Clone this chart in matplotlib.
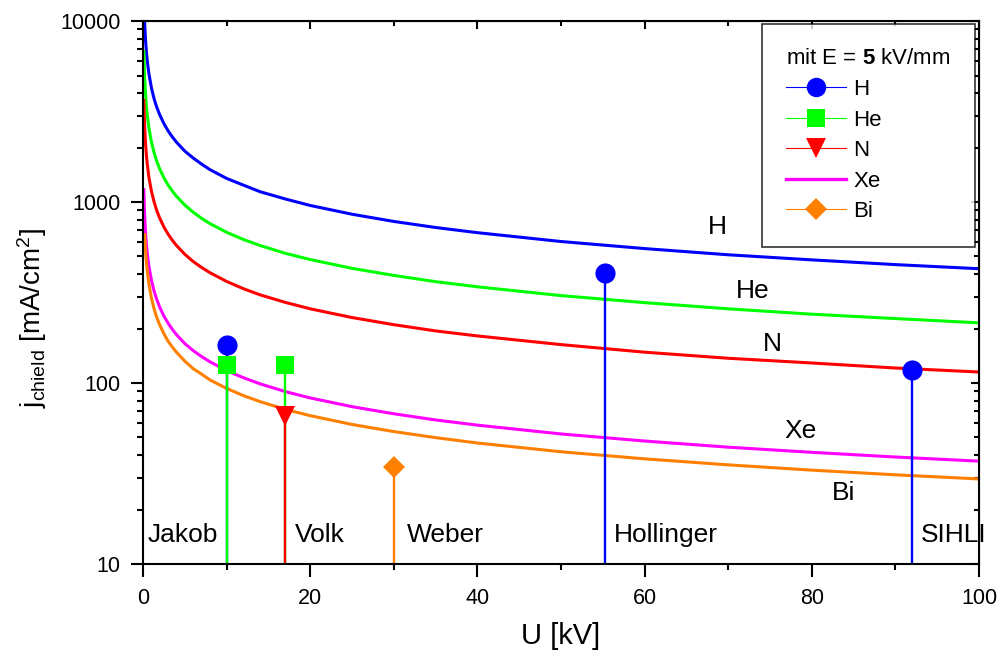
# coding: utf-8

"""Child-Langmuir Stromdichte fuer verschiedene Ionen bei E = 5 kV/mm."""

import matplotlib.pyplot as plt
from matplotlib.lines import Line2D
from matplotlib.ticker import FixedLocator, LogLocator, NullFormatter

# pismo: Arial-like
plt.rcParams["font.family"] = ["Liberation Sans", "DejaVu Sans"]
plt.rcParams["mathtext.fontset"] = "custom"
plt.rcParams["mathtext.rm"] = "Liberation Sans"
plt.rcParams["mathtext.it"] = "Liberation Sans:italic"
plt.rcParams["mathtext.bf"] = "Liberation Sans:bold"

# hodnoty na x-ove ose (U v kV)
u = [0.1, 0.15, 0.2, 0.3, 0.4, 0.5, 0.7, 1, 1.3, 1.6, 2, 2.5, 3, 3.5, 4,
     5, 6, 7, 8, 10, 12, 14, 17, 20, 25, 30, 35, 40, 50, 60, 70, 80, 90, 100]

# hodnoty na y-ove ose (j v mA/cm^2)
j_h = [13530, 11050, 9570, 7810, 6770, 6050, 5120, 4280, 3750, 3380,
       3030, 2710, 2470, 2290, 2140, 1910, 1750, 1620, 1510, 1350,
       1240, 1140, 1040, 957, 856, 781, 723, 677, 605, 553,
       511, 479, 451, 428]
j_he = [6800, 5550, 4810, 3930, 3400, 3040, 2570, 2150, 1890, 1700,
        1520, 1360, 1240, 1150, 1075, 962, 878, 813, 760, 680,
        621, 575, 521, 481, 430, 393, 363, 340, 304, 278,
        257, 240, 227, 215]
j_n = [3640, 2970, 2570, 2100, 1820, 1630, 1370, 1150, 1010, 909,
       813, 727, 664, 615, 575, 514, 469, 435, 407, 364,
       332, 307, 279, 257, 230, 210, 194, 182, 163, 148,
       137, 129, 121, 115]
j_xe = [1170, 955, 827, 675, 585, 523, 442, 370, 325, 293,
        262, 234, 214, 198, 185, 165, 151, 140, 131, 117,
        107, 98.9, 89.7, 82.7, 74, 67.6, 62.5, 58.5, 52.3, 47.8,
        44.2, 41.4, 39, 37]
u_bi = u[2:]
j_bi = [660, 539, 466, 417, 353, 295, 259, 233, 209, 187,
        170, 158, 148, 132, 120, 112, 104, 93.3, 85.2, 78.9,
        71.5, 66, 59, 53.9, 49.9, 46.6, 41.7, 38.1, 35.3, 33,
        31.1, 29.5]

# experimenty: U, j
exp_h_u = [10, 55.3, 92]
exp_h_j = [162, 405, 118]
exp_he_u = [10, 17]
exp_he_j = [126, 126]
exp_n_u = [17]
exp_n_j = [66]
exp_bi_u = [30]
exp_bi_j = [34.5]

# popisky experimentu
exp_names = ["Jakob", "Volk", "Weber", "Hollinger", "SIHLI"]
exp_name_u = [0.5, 18.2, 31.6, 56.3, 93]

# popisky krivek
curve_names = ["H", "He", "N", "Xe", "Bi"]
curve_name_u = [68.7, 72.9, 75.3, 78.6, 83.8]
curve_name_j = [730, 322, 164, 54, 24.6]

blue = "#0000ff"
green = "#00ff00"
red = "#ff0000"
magenta = "#ff00ff"
orange = "#ff8000"

fig = plt.figure(figsize=(10.01, 6.53), dpi=100)
ax = fig.add_axes([0.1429, 0.1363, 0.8352, 0.8315])

# teoreticke krivky
ax.plot(u, j_h, color=blue, lw=2.2)
ax.plot(u, j_he, color=green, lw=2.2)
ax.plot(u, j_n, color=red, lw=2.2)
ax.plot(u, j_xe, color=magenta, lw=2.2)
ax.plot(u_bi, j_bi, color=orange, lw=2.2)

# experimenty se svislymi carami
ax.vlines(exp_h_u, 10, exp_h_j, color=blue, lw=1.7)
ax.vlines(exp_he_u, 10, exp_he_j, color=green, lw=1.7)
ax.vlines(exp_n_u, 10, exp_n_j, color=red, lw=1.7)
ax.vlines(exp_bi_u, 10, exp_bi_j, color=orange, lw=1.7)
ax.plot(exp_h_u, exp_h_j, "o", color=blue, ms=14.5, mew=0)
ax.plot(exp_he_u, exp_he_j, "s", color=green, ms=13, mew=0)
ax.plot(exp_n_u, exp_n_j, "v", color=red, ms=15, mew=0)
ax.plot(exp_bi_u, exp_bi_j, "D", color=orange, ms=11.5, mew=0)

# popisky v grafu
for name, x in zip(exp_names, exp_name_u):
    ax.text(x, 14.5, name, fontsize=19, va="center", ha="left")
for name, x, y in zip(curve_names, curve_name_u, curve_name_j):
    ax.text(x, y, name, fontsize=19, va="center", ha="center")

# rozsahy a meritko os
ax.set_xlim(0, 100)
ax.set_yscale("log")
ax.set_ylim(10, 10000)
ax.set_xticks([0, 20, 40, 60, 80, 100])
ax.xaxis.set_minor_locator(FixedLocator([10, 30, 50, 70, 90]))
ax.yaxis.set_major_locator(FixedLocator([10, 100, 1000, 10000]))
ax.set_yticklabels(["10", "100", "1000", "10000"])
ax.yaxis.set_minor_locator(LogLocator(base=10, subs=range(2, 10)))
ax.yaxis.set_minor_formatter(NullFormatter())
ax.tick_params(which="major", direction="out", length=9, width=1.5,
               labelsize=15.5)
ax.tick_params(which="minor", direction="out", length=4.5, width=1.5)
ax.tick_params(axis="x", which="major", pad=8)
ax.tick_params(axis="y", which="major", pad=7)
for s in ax.spines.values():
    s.set_linewidth(1.5)

# horni a prava osa s tiky dovnitr
top = ax.secondary_xaxis("top")
top.set_xticks([0, 20, 40, 60, 80, 100])
top.xaxis.set_minor_locator(FixedLocator([10, 30, 50, 70, 90]))
top.tick_params(which="both", direction="in", labeltop=False, width=1.5)
top.tick_params(which="major", length=6)
top.tick_params(which="minor", length=3.5)
right = ax.secondary_yaxis("right")
right.yaxis.set_major_locator(FixedLocator([10, 100, 1000, 10000]))
right.yaxis.set_minor_locator(LogLocator(base=10, subs=range(2, 10)))
right.tick_params(which="both", direction="in", labelright=False, width=1.5)
right.tick_params(which="major", length=6)
right.tick_params(which="minor", length=3.5)
right.yaxis.set_minor_formatter(NullFormatter())

# popis os
ax.set_xlabel("U [kV]", fontsize=21)
ax.set_ylabel(r"j$_{\rm chield}$ [mA/cm$^2$]", fontsize=20)
ax.xaxis.set_label_coords(0.5, -0.107)
ax.yaxis.set_label_coords(-0.112, 0.453)

# legenda
handles = [
    Line2D([], [], color=blue, lw=0.8, marker="o", ms=14, mew=0),
    Line2D([], [], color=green, lw=0.8, marker="s", ms=13, mew=0),
    Line2D([], [], color=red, lw=0.8, marker="v", ms=15, mew=0),
    Line2D([], [], color=magenta, lw=2.4),
    Line2D([], [], color=orange, lw=0.8, marker="D", ms=11.5, mew=0),
]
leg = ax.legend(handles, curve_names, loc="upper right",
                bbox_to_anchor=(0.9952, 0.9945), borderaxespad=0,
                title=r"mit E = $\mathbf{5}$ kV/mm", title_fontsize=16,
                fontsize=16, frameon=True, fancybox=False, edgecolor="black",
                handlelength=2.7, handletextpad=0.3, labelspacing=0.43,
                borderpad=1.1, alignment="left")
leg.get_frame().set_linewidth(1.2)

plt.savefig("out.png", dpi=100)
